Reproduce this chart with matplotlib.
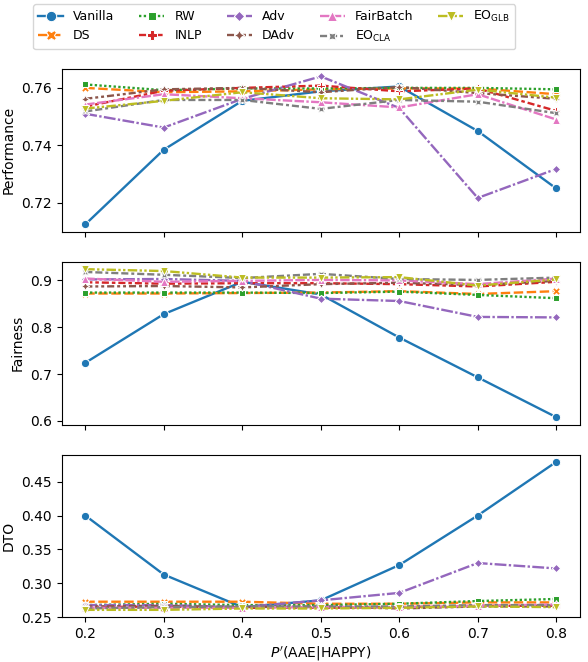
import matplotlib
matplotlib.use('Agg')
import matplotlib.pyplot as plt
import pandas as pd
import seaborn as sns

p_values = [0.2, 0.3, 0.4, 0.5, 0.6, 0.7, 0.8]
methods = ['Vanilla', 'DS', 'RW', 'INLP', 'Adv', 'DAdv', 'FairBatch',
           r'EO$_\mathregular{CLA}$', r'EO$_\mathregular{GLB}$']

performance = {
    'Vanilla':   [0.7125, 0.7385, 0.7555, 0.7588, 0.7605, 0.7450, 0.7250],
    'DS':        [0.7600, 0.7585, 0.7588, 0.7595, 0.7598, 0.7598, 0.7578],
    'RW':        [0.7612, 0.7592, 0.7598, 0.7598, 0.7600, 0.7600, 0.7595],
    'INLP':      [0.7535, 0.7590, 0.7600, 0.7608, 0.7588, 0.7598, 0.7520],
    'Adv':       [0.7510, 0.7462, 0.7562, 0.7640, 0.7530, 0.7217, 0.7318],
    'DAdv':      [0.7562, 0.7595, 0.7600, 0.7585, 0.7603, 0.7582, 0.7562],
    'FairBatch': [0.7542, 0.7578, 0.7564, 0.7550, 0.7532, 0.7578, 0.7490],
    'EO_CLA':    [0.7518, 0.7558, 0.7558, 0.7527, 0.7558, 0.7552, 0.7512],
    'EO_GLB':    [0.7528, 0.7555, 0.7585, 0.7564, 0.7560, 0.7594, 0.7566],
}

fairness = {
    'Vanilla':   [0.724, 0.828, 0.897, 0.870, 0.778, 0.693, 0.608],
    'DS':        [0.872, 0.872, 0.873, 0.874, 0.877, 0.871, 0.877],
    'RW':        [0.874, 0.874, 0.874, 0.873, 0.876, 0.869, 0.862],
    'INLP':      [0.896, 0.893, 0.894, 0.894, 0.892, 0.887, 0.897],
    'Adv':       [0.902, 0.903, 0.899, 0.861, 0.856, 0.822, 0.821],
    'DAdv':      [0.887, 0.888, 0.885, 0.892, 0.895, 0.890, 0.899],
    'FairBatch': [0.904, 0.897, 0.899, 0.901, 0.900, 0.892, 0.904],
    'EO_CLA':    [0.918, 0.912, 0.905, 0.914, 0.903, 0.901, 0.906],
    'EO_GLB':    [0.924, 0.920, 0.906, 0.906, 0.907, 0.889, 0.902],
}

dto = {
    'Vanilla':   [0.400, 0.313, 0.265, 0.275, 0.327, 0.400, 0.479],
    'DS':        [0.273, 0.273, 0.273, 0.270, 0.270, 0.272, 0.272],
    'RW':        [0.268, 0.270, 0.268, 0.268, 0.270, 0.274, 0.277],
    'INLP':      [0.265, 0.266, 0.264, 0.264, 0.265, 0.267, 0.267],
    'Adv':       [0.268, 0.268, 0.265, 0.275, 0.286, 0.330, 0.322],
    'DAdv':      [0.266, 0.267, 0.265, 0.266, 0.263, 0.266, 0.266],
    'FairBatch': [0.264, 0.264, 0.264, 0.265, 0.265, 0.267, 0.269],
    'EO_CLA':    [0.263, 0.265, 0.266, 0.266, 0.266, 0.268, 0.268],
    'EO_GLB':    [0.261, 0.261, 0.263, 0.263, 0.264, 0.266, 0.265],
}

keys = list(performance.keys())
rows = []
for key, label in zip(keys, methods):
    for i, p in enumerate(p_values):
        rows.append({'p': p, 'method': label,
                     'Performance': performance[key][i],
                     'Fairness': fairness[key][i],
                     'DTO': dto[key][i]})
df = pd.DataFrame(rows)

fig, axes = plt.subplots(3, 1, figsize=(5.88, 6.62), dpi=100, sharex=True)
fig.subplots_adjust(left=0.105, right=0.986, top=1 - 69 / 662, bottom=0.0675, hspace=0.184)

for ax, metric in zip(axes, ['Performance', 'Fairness', 'DTO']):
    sns.lineplot(data=df, x='p', y=metric, hue='method', style='method',
                 hue_order=methods, style_order=methods,
                 markers=True, dashes=True, linewidth=1.7, markersize=6, ax=ax)
    ax.set_ylabel(metric)
    ax.set_xlabel('')

handles, labels = axes[0].get_legend_handles_labels()
for ax in axes:
    ax.get_legend().remove()

axes[2].set_xlabel(r"$P'$(AAE|HAPPY)", labelpad=3)
axes[2].set_xticks(p_values)
axes[0].set_yticks([0.72, 0.74, 0.76])
axes[1].set_yticks([0.6, 0.7, 0.8, 0.9])
axes[2].set_yticks([0.25, 0.30, 0.35, 0.40, 0.45])

fig.legend(handles, labels, ncol=5, loc='upper left', fontsize=9,
           markerscale=1.25, borderaxespad=0,
           bbox_to_anchor=(33 / 588, 1 - 4 / 662))

fig.savefig('out.png', dpi=100)
